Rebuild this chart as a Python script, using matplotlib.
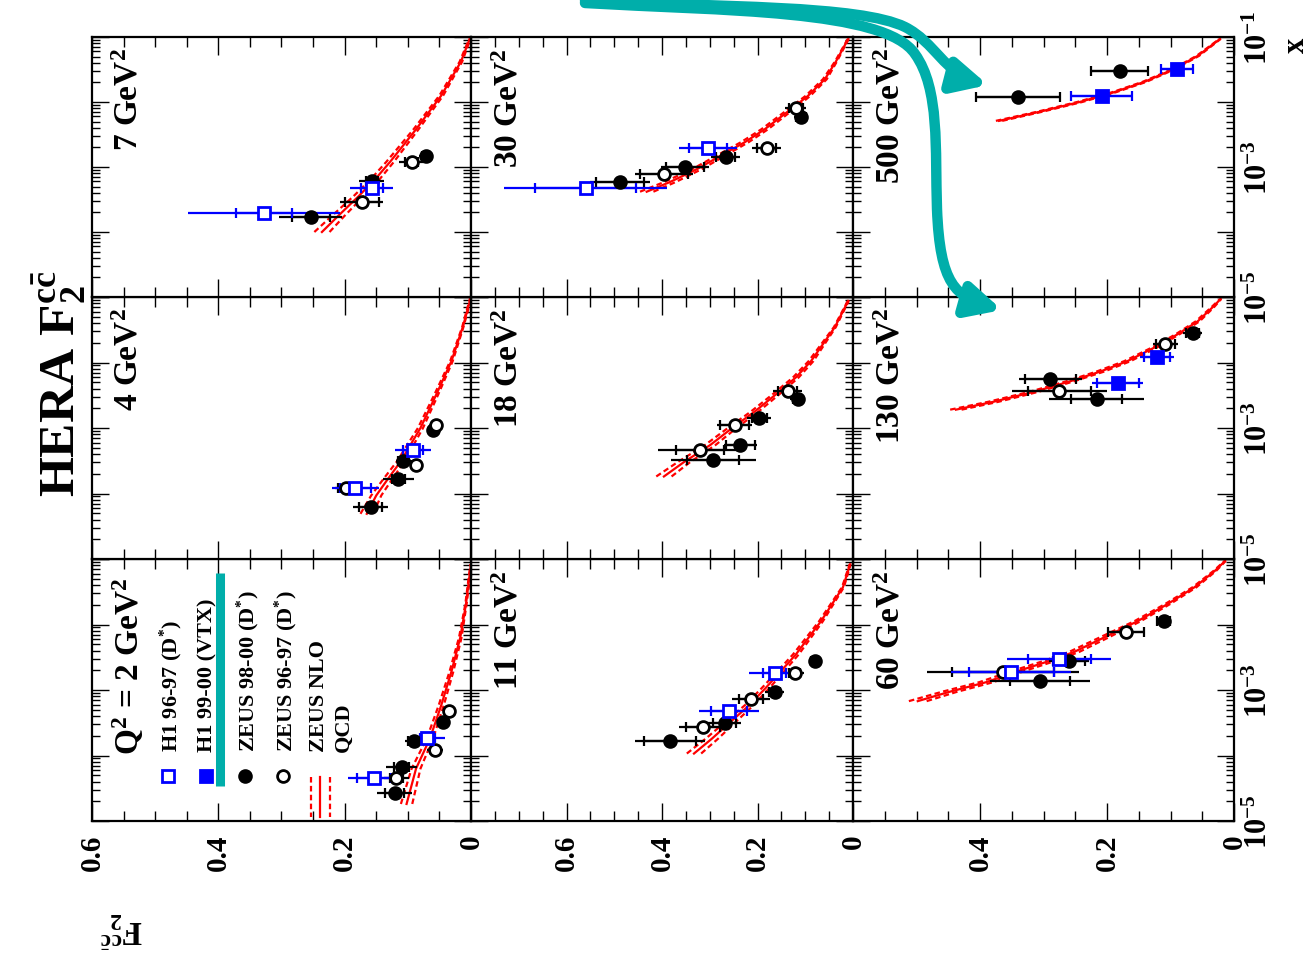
import numpy as np
import matplotlib
matplotlib.use("Agg")
import matplotlib.pyplot as plt
from matplotlib.path import Path
from matplotlib.patches import FancyArrowPatch
from matplotlib.ticker import MultipleLocator, LogLocator, FuncFormatter

plt.rcParams['font.family'] = ['Liberation Serif', 'DejaVu Serif']
plt.rcParams['font.weight'] = 'bold'
plt.rcParams['mathtext.fontset'] = 'custom'
plt.rcParams['mathtext.rm'] = 'Liberation Serif:bold'
plt.rcParams['mathtext.it'] = 'Liberation Serif:bold'
plt.rcParams['mathtext.bf'] = 'Liberation Serif:bold'

# Q2 bins in GeV^2
q2_bins = [2, 4, 7, 11, 18, 30, 60, 130, 500]

# data points: log10(x), F2cc, stat error, total error
h1_dstar = {
    2: ([-4.34, -3.74], [0.154, 0.069], [0.027, 0.012], [0.041, 0.028]),
    4: ([-3.92, -3.34], [0.183, 0.092], [0.025, 0.016], [0.037, 0.028]),
    7: ([-3.71, -3.32], [0.328, 0.157], [0.044, 0.017], [0.120, 0.034]),
    11: ([-3.32, -2.74], [0.259, 0.164], [0.038, 0.024], [0.063, 0.053]),
    30: ([-3.32, -2.71], [0.560, 0.303], [0.106, 0.040], [0.170, 0.061]),
    60: ([-2.72, -2.52], [0.351, 0.275], [0.067, 0.050], [0.094, 0.082]),
}
h1_vtx = {
    130: ([-2.32, -1.92], [0.183, 0.121], [0.033, 0.020], [0.040, 0.027]),
    500: ([-1.91, -1.49], [0.208, 0.090], [0.048, 0.025], [0.048, 0.025]),
}
zeus_9800 = {
    2: ([-4.57, -4.18, -3.78, -3.49], [0.121, 0.110, 0.091, 0.044], [0.015, 0.012, 0.008, 0.005], [0.028, 0.025, 0.014, 0.008]),
    4: ([-4.20, -3.78, -3.51, -3.03], [0.159, 0.115, 0.107, 0.060], [0.018, 0.010, 0.008, 0.005], [0.028, 0.024, 0.012, 0.008]),
    7: ([-3.77, -3.22, -2.83], [0.254, 0.157, 0.072], [0.030, 0.010, 0.006], [0.050, 0.020, 0.010]),
    11: ([-3.78, -3.51, -3.03, -2.55], [0.383, 0.269, 0.164, 0.080], [0.054, 0.025, 0.012, 0.008], [0.074, 0.035, 0.020, 0.012]),
    18: ([-3.49, -3.26, -2.85, -2.55], [0.293, 0.236, 0.196, 0.116], [0.055, 0.030, 0.015, 0.010], [0.089, 0.035, 0.025, 0.015]),
    30: ([-3.23, -3.00, -2.85, -2.23], [0.488, 0.352, 0.267, 0.109], [0.050, 0.040, 0.020, 0.010], [0.063, 0.050, 0.030, 0.015]),
    60: ([-2.86, -2.55, -1.94], [0.305, 0.260, 0.111], [0.047, 0.025, 0.010], [0.079, 0.032, 0.012]),
    130: ([-2.25, -2.55, -1.55], [0.289, 0.216, 0.065], [0.040, 0.040, 0.010], [0.050, 0.075, 0.015]),
    500: ([-1.92, -1.52], [0.340, 0.180], [0.066, 0.045], [0.066, 0.045]),
}
zeus_9697 = {
    2: ([-4.34, -3.92, -3.32], [0.118, 0.057, 0.035], [0.010, 0.006, 0.004], [0.020, 0.012, 0.008]),
    4: ([-3.92, -3.57, -2.95], [0.198, 0.087, 0.055], [0.012, 0.006, 0.005], [0.018, 0.010, 0.008]),
    7: ([-3.54, -2.92], [0.173, 0.094], [0.027, 0.010], [0.034, 0.020]),
    11: ([-3.57, -3.14, -2.74], [0.314, 0.213, 0.122], [0.035, 0.025, 0.012], [0.050, 0.040, 0.020]),
    18: ([-3.34, -2.95, -2.43], [0.320, 0.248, 0.137], [0.050, 0.030, 0.020], [0.088, 0.036, 0.030]),
    30: ([-3.11, -2.71, -2.09], [0.396, 0.181, 0.120], [0.050, 0.020, 0.015], [0.060, 0.030, 0.022]),
    60: ([-2.72, -2.11], [0.364, 0.170], [0.080, 0.028], [0.120, 0.028]),
    130: ([-2.43, -1.72], [0.275, 0.108], [0.050, 0.015], [0.075, 0.020]),
}

# ZEUS NLO QCD: log10(x), central F2cc, band half width
qcd_curves = {
    2: ([-4.74, -4.20, -3.74, -3.23, -2.72, -2.20, -1.69, -1.08],
        [0.102, 0.087, 0.065, 0.047, 0.031, 0.017, 0.008, 0.000],
        [0.009, 0.007, 0.005, 0.004, 0.003, 0.002, 0.001, 0.001]),
    4: ([-4.31, -4.03, -3.77, -3.52, -3.26, -3.00, -2.49, -1.98, -1.46, -1.00],
        [0.165, 0.150, 0.131, 0.112, 0.096, 0.080, 0.055, 0.031, 0.013, 0.000],
        [0.010, 0.008, 0.007, 0.006, 0.005, 0.004, 0.003, 0.002, 0.001, 0.001]),
    7: ([-4.00, -3.75, -3.45, -3.18, -2.92, -2.42, -1.90, -1.38, -1.03],
        [0.236, 0.210, 0.178, 0.151, 0.128, 0.087, 0.047, 0.016, 0.002],
        [0.012, 0.010, 0.008, 0.007, 0.006, 0.004, 0.003, 0.002, 0.001]),
    11: ([-3.97, -3.74, -3.49, -3.23, -2.97, -2.72, -2.46, -1.95, -1.43, -1.08],
         [0.333, 0.295, 0.257, 0.217, 0.183, 0.152, 0.120, 0.067, 0.021, 0.006],
         [0.015, 0.013, 0.011, 0.009, 0.008, 0.007, 0.006, 0.004, 0.002, 0.001]),
    18: ([-3.74, -3.52, -3.26, -3.00, -2.75, -2.49, -2.23, -1.98, -1.46, -1.06],
         [0.396, 0.354, 0.299, 0.253, 0.206, 0.162, 0.120, 0.088, 0.038, 0.010],
         [0.016, 0.013, 0.011, 0.009, 0.008, 0.007, 0.006, 0.005, 0.002, 0.001]),
    30: ([-3.38, -3.23, -3.03, -2.83, -2.62, -2.42, -2.15, -1.91, -1.65, -1.38, -1.03],
         [0.432, 0.383, 0.326, 0.278, 0.227, 0.185, 0.137, 0.095, 0.059, 0.036, 0.010],
         [0.014, 0.012, 0.010, 0.009, 0.008, 0.007, 0.006, 0.005, 0.004, 0.002, 0.001]),
    60: ([-3.17, -3.03, -2.88, -2.72, -2.57, -2.42, -2.20, -1.95, -1.69, -1.43, -1.18, -1.03],
         [0.498, 0.449, 0.390, 0.343, 0.295, 0.252, 0.205, 0.152, 0.105, 0.062, 0.030, 0.014],
         [0.014, 0.012, 0.011, 0.010, 0.009, 0.008, 0.007, 0.005, 0.004, 0.003, 0.002, 0.001]),
    130: ([-2.72, -2.60, -2.45, -2.29, -2.14, -1.98, -1.77, -1.57, -1.37, -1.15, -1.03],
          [0.438, 0.379, 0.316, 0.259, 0.211, 0.168, 0.125, 0.089, 0.057, 0.033, 0.021],
          [0.009, 0.008, 0.007, 0.006, 0.006, 0.005, 0.004, 0.003, 0.003, 0.002, 0.001]),
    500: ([-2.29, -2.15, -2.00, -1.85, -1.69, -1.49, -1.29, -1.03],
          [0.370, 0.306, 0.243, 0.189, 0.141, 0.094, 0.057, 0.022],
          [0.005, 0.004, 0.004, 0.003, 0.003, 0.002, 0.002, 0.001]),
}

# figure layout (pixels, figure is the paper plot turned on its side)
W, H = 1308, 962
col_left = [92, 471, 853]
col_right = [471, 853, 1234]
row_top = [38, 298, 560]
row_bot = [298, 560, 822]
f2_max = [0.6, 0.8, 0.6]
panel_at = {2: (0, 2), 4: (0, 1), 7: (0, 0), 11: (1, 2), 18: (1, 1), 30: (1, 0),
            60: (2, 2), 130: (2, 1), 500: (2, 0)}
teal = '#00AEAA'


def fx(px):
    return px / W


def fy(py):
    return 1 - py / H


fig = plt.figure(figsize=(W / 100, H / 100), dpi=100)


def draw_points(ax, table, q2, color, marker, filled):
    if q2 not in table:
        return
    lgx, f2, st, tot = table[q2]
    xv = 10 ** np.array(lgx)
    ax.errorbar(f2, xv, xerr=tot, fmt='none', ecolor=color, elinewidth=1.6, capsize=0, zorder=3)
    ax.errorbar(f2, xv, xerr=st, fmt='none', ecolor=color, elinewidth=1.6, capsize=3.5,
                capthick=1.6, zorder=3)
    ax.plot(f2, xv, linestyle='none', marker=marker, ms=8.5 if marker == 'o' else 8,
            mfc=color if filled else 'white', mec=color, mew=2.0, zorder=4)


for q2 in q2_bins:
    c, r = panel_at[q2]
    ax = fig.add_axes([fx(col_left[c]), fy(row_bot[r]),
                       fx(col_right[c] - col_left[c]), (row_bot[r] - row_top[r]) / H])
    ax.set_yscale('log')
    ax.set_xlim(f2_max[c], 0)
    ax.set_ylim(1e-5, 1e-1)

    lgx, f2c, band = qcd_curves[q2]
    xv = 10 ** np.array(lgx)
    f2c = np.array(f2c)
    band = np.array(band)
    ax.plot(f2c, xv, color='red', lw=1.6, zorder=2)
    ax.plot(f2c + band, xv, color='red', lw=1.6, ls=(0, (2.5, 1.5)), zorder=2)
    ax.plot(f2c - band, xv, color='red', lw=1.6, ls=(0, (2.5, 1.5)), zorder=2)

    draw_points(ax, zeus_9800, q2, 'black', 'o', True)
    draw_points(ax, zeus_9697, q2, 'black', 'o', False)
    draw_points(ax, h1_dstar, q2, 'blue', 's', False)
    draw_points(ax, h1_vtx, q2, 'blue', 's', True)

    for s in ax.spines.values():
        s.set_linewidth(1.6)
    ax.xaxis.set_major_locator(MultipleLocator(0.2))
    ax.xaxis.set_minor_locator(MultipleLocator(0.05))
    ax.yaxis.set_major_locator(LogLocator(base=10, numticks=10))
    ax.yaxis.set_minor_locator(LogLocator(base=10, subs=np.arange(2, 10), numticks=20))
    ax.tick_params(axis='x', which='major', direction='in', length=13, width=1.0,
                   top=True, bottom=True)
    ax.tick_params(axis='x', which='minor', direction='in', length=7, width=1.0,
                   top=True, bottom=True)
    ax.tick_params(axis='y', which='major', direction='in', length=12, width=1.0,
                   left=True, right=True)
    ax.tick_params(axis='y', which='minor', direction='in', length=6, width=1.0,
                   left=True, right=True)

    shown_f2 = [0.0, 0.2, 0.4, 0.6] if c < 2 else [0.0, 0.2, 0.4]

    def f2_fmt(v, p, shown=shown_f2):
        for s in shown:
            if abs(v - s) < 1e-6:
                return '0' if s == 0 else f'{s:.1f}'
        return ''

    shown_x = [-5, -3, -1] if r == 0 else [-5, -3]

    def x_fmt(v, p, shown=shown_x):
        e = int(round(np.log10(v)))
        if abs(np.log10(v) - e) < 1e-6 and e in shown:
            return r'$10^{%d}$' % e
        return ''

    if r == 2:
        ax.xaxis.set_major_formatter(FuncFormatter(f2_fmt))
        ax.tick_params(axis='x', labelbottom=True, labelsize=21, pad=9, labelrotation=90)
    else:
        ax.tick_params(axis='x', labelbottom=False)
    if c == 2:
        ax.yaxis.set_major_formatter(FuncFormatter(x_fmt))
        ax.tick_params(axis='y', labelleft=False, labelright=True, labelsize=22, pad=8,
                       labelrotation=90)
        for t in ax.get_yticklabels():
            t.set_va('center')
    else:
        ax.tick_params(axis='y', labelleft=False)
    ax.yaxis.set_minor_formatter(FuncFormatter(lambda v, p: ''))

    if q2 != 2:
        fig.text(fx(col_left[c] + 22), fy(row_top[r] + 10), '%d GeV$^{2}$' % q2,
                 rotation=90, ha='left', va='top', fontsize=24)

# legend in the Q2 = 2 panel
fig.text(fx(110), fy(755), r'Q$^{2}$ = 2 GeV$^{2}$', rotation=90, ha='left', va='bottom',
         fontsize=24)
legend_text = ['H1 96-97 (D$^{*}$)', 'H1 99-00 (VTX)', 'ZEUS 98-00 (D$^{*}$)',
               'ZEUS 96-97 (D$^{*}$)', 'ZEUS NLO', 'QCD']
legend_x = [158, 197, 235, 273, 309, 334]
for t, lx in zip(legend_text, legend_x):
    fig.text(fx(lx), fy(752), t, rotation=90, ha='left', va='bottom', fontsize=16)
fig.lines.append(plt.Line2D([fx(168)], [fy(777)], marker='s', ms=8, mfc='white', mec='blue',
                            mew=2, transform=fig.transFigure))
fig.lines.append(plt.Line2D([fx(206)], [fy(777)], marker='s', ms=8, mfc='blue', mec='blue',
                            mew=2, transform=fig.transFigure))
fig.lines.append(plt.Line2D([fx(245)], [fy(777)], marker='o', ms=8.5, mfc='black', mec='black',
                            mew=2, transform=fig.transFigure))
fig.lines.append(plt.Line2D([fx(283)], [fy(777)], marker='o', ms=8.5, mfc='white', mec='black',
                            mew=2, transform=fig.transFigure))
fig.lines.append(plt.Line2D([fx(320), fx(320)], [fy(778), fy(818)], color='red', lw=1.6,
                            transform=fig.transFigure))
for lx in (311, 330):
    fig.lines.append(plt.Line2D([fx(lx), fx(lx)], [fy(778), fy(818)], color='red', lw=1.6,
                                ls=(0, (2.5, 1.5)), transform=fig.transFigure))
fig.lines.append(plt.Line2D([fx(220.5), fx(220.5)], [fy(574), fy(787)], color=teal, lw=6.5,
                            solid_capstyle='butt', transform=fig.transFigure))

# titles
fig.text(fx(30), fy(497), r'HERA F$_{2}^{c\bar{c}}$', rotation=90, ha='left', va='bottom',
         fontsize=37)
fig.text(fx(122), fy(930), r'F$_{2}^{c\bar{c}}$', rotation=180, ha='center', va='center',
         fontsize=24)
fig.text(fx(1296), fy(45), 'x', rotation=90, ha='center', va='center', fontsize=22)

# highlight arrows
def pix_path(pts, codes):
    return Path([(fx(a), fy(b)) for a, b in pts], codes)


C4 = Path.CURVE4
arrow_a = pix_path([(585, 2), (720, 8), (860, 6), (905, 28),
                    (935, 43), (945, 75), (988, 86)],
                   [Path.MOVETO, C4, C4, C4, C4, C4, C4])
arrow_b = pix_path([(585, 4), (720, 12), (885, 10), (915, 55),
                    (940, 90), (935, 150), (937, 210),
                    (940, 285), (955, 298), (1002, 311)],
                   [Path.MOVETO, C4, C4, C4, C4, C4, C4, C4, C4, C4])
for p in (arrow_a, arrow_b):
    fig.add_artist(FancyArrowPatch(path=p, transform=fig.transFigure,
                                   arrowstyle='-|>,head_length=20,head_width=10',
                                   color=teal, lw=7.5, mutation_scale=1))

fig.savefig('out.png', dpi=100)
